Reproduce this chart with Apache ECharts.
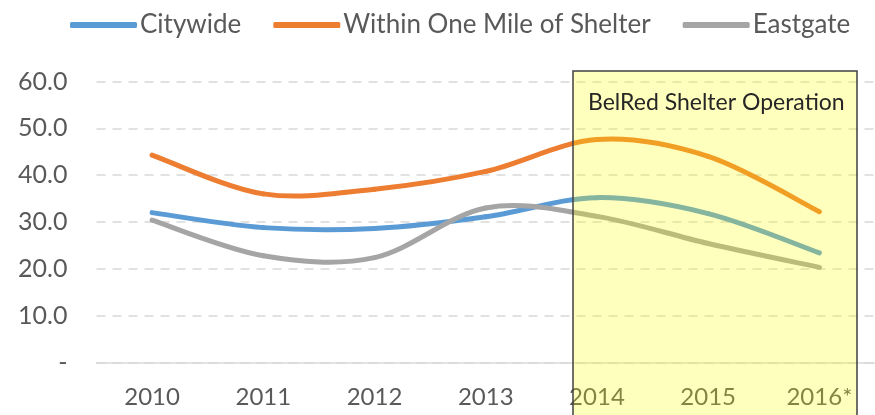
<!DOCTYPE html>
<html lang="en">
<head>
    <meta charset="UTF-8">
    <title>Shelter chart</title>
    <script src="https://cdn.jsdelivr.net/npm/echarts@6.0.0/dist/echarts.min.js"></script>
    <style>
        html, body { margin: 0; padding: 0; background: #fff; }
    </style>
</head>
<body>
    <div id="chart" style="width: 875px; height: 415px;"></div>
    <script>
        const years = ['2010', '2011', '2012', '2013', '2014', '2015', '2016*']
        const citywide = [32.0, 28.8, 28.6, 31.1, 35.2, 31.8, 23.4]
        const withinMile = [44.3, 36.0, 37.0, 40.8, 47.6, 44.0, 32.2]
        const eastgate = [30.4, 22.8, 22.4, 33.0, 31.2, 25.4, 20.3]
        const yTicks = [0, 10, 20, 30, 40, 50, 60]

        const font = 'Lato'
        const textColor = '#595959'

        const chart = echarts.init(document.getElementById('chart'))

        // Excel style smoothing: one cubic segment per pair of points,
        // tangents from the neighbours (Catmull-Rom), positions from the axes
        const smoothLine = (name, values, color) => ({
            name: name,
            type: 'custom',
            coordinateSystem: 'cartesian2d',
            data: values.map((v, i) => [i, v]),
            encode: { x: 0, y: 1 },
            z: 2,
            itemStyle: { color: color },
            renderItem: (params, api) => {
                const i = params.dataIndex
                const n = values.length
                if (i >= n - 1) return null
                const pt = k => {
                    const j = Math.max(0, Math.min(n - 1, k))
                    return api.coord([j, values[j]])
                }
                const p0 = pt(i - 1), p1 = pt(i), p2 = pt(i + 1), p3 = pt(i + 2)
                return {
                    type: 'bezierCurve',
                    shape: {
                        x1: p1[0], y1: p1[1],
                        cpx1: p1[0] + (p2[0] - p0[0]) / 6,
                        cpy1: p1[1] + (p2[1] - p0[1]) / 6,
                        cpx2: p2[0] - (p3[0] - p1[0]) / 6,
                        cpy2: p2[1] - (p3[1] - p1[1]) / 6,
                        x2: p2[0], y2: p2[1]
                    },
                    style: { stroke: color, lineWidth: 5, fill: null, lineCap: 'round' }
                }
            }
        })

        const option = {
            animation: false,
            textStyle: { fontFamily: font },
            legend: {
                top: 7,
                left: 65,
                itemGap: 32,
                itemWidth: 67,
                itemHeight: 6,
                icon: 'roundRect',
                textStyle: { color: textColor, fontSize: 26, fontFamily: font, padding: [0, 0, 0, -2] },
                data: ['Citywide', 'Within One Mile of Shelter', 'Eastgate']
            },
            grid: { left: 96.5, right: -15, top: 81.5, bottom: 52.5 },
            xAxis: {
                type: 'category',
                data: years,
                boundaryGap: true,
                axisLine: { lineStyle: { color: '#D9D9D9', width: 1.5 } },
                axisTick: { show: false },
                axisLabel: { color: textColor, fontSize: 24, margin: 23 }
            },
            yAxis: {
                type: 'value',
                min: yTicks[0],
                max: yTicks[yTicks.length - 1],
                interval: 10,
                axisLine: { show: false },
                axisTick: { show: false },
                axisLabel: {
                    color: textColor,
                    fontSize: 25,
                    margin: 29,
                    formatter: v => v === 0 ? '-' : v.toFixed(1)
                },
                splitLine: { lineStyle: { color: '#D9D9D9', width: 1.5, type: [9, 7] } }
            },
            graphic: [{
                type: 'rect',
                z: 100,
                shape: { x: 573, y: 71, width: 284, height: 360 },
                style: { fill: 'rgba(255, 255, 0, 0.26)', stroke: '#404040', lineWidth: 1.5 }
            }, {
                type: 'text',
                z: 101,
                left: 588,
                top: 91,
                style: { text: 'BelRed Shelter Operation', fill: '#262626', font: '23px "Lato"' }
            }],
            series: [
                smoothLine('Citywide', citywide, '#5B9BD5'),
                smoothLine('Within One Mile of Shelter', withinMile, '#ED7D31'),
                smoothLine('Eastgate', eastgate, '#A5A5A5')
            ]
        }

        chart.setOption(option)
    </script>
</body>
</html>
